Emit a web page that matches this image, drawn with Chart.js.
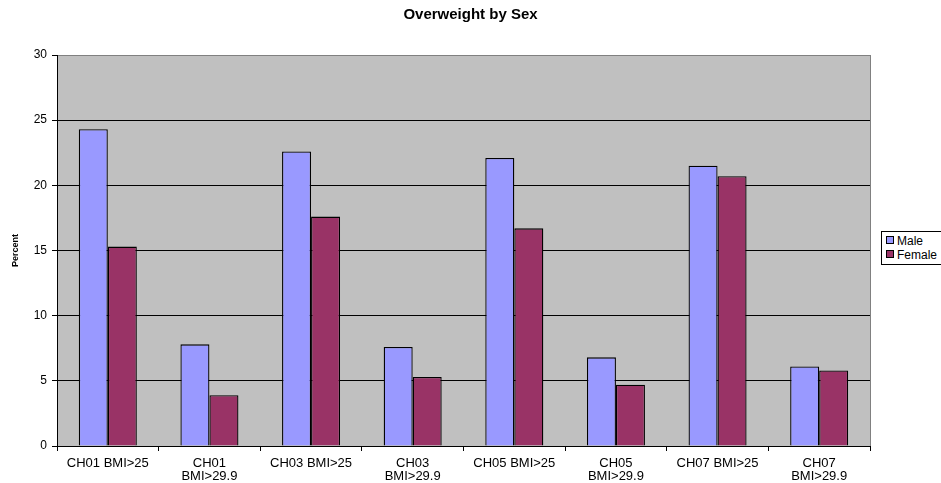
<!DOCTYPE html>
<html>
<head>
<meta charset="utf-8">
<title>Overweight by Sex</title>
<script src="https://cdn.jsdelivr.net/npm/chart.js@4/dist/chart.umd.min.js"></script>
<style>
  html, body { margin: 0; padding: 0; background: #fff; overflow: hidden; }
  #wrap { position: relative; width: 941px; height: 483px; overflow: hidden; }
  #legend {
    position: absolute; left: 881px; top: 231px; width: 80px; height: 32px;
    border: 1px solid #000; background: #fff;
    font: 12px "Liberation Sans", Arial, sans-serif; color: #000;
  }
  #legend div { position: absolute; left: 4px; height: 14px; line-height: 14px; white-space: nowrap; }
  #legend span {
    display: inline-block; width: 6px; height: 6px; border: 1px solid #000;
    margin-right: 3px; vertical-align: 1px;
  }
</style>
</head>
<body>
<div id="wrap">
  <canvas id="myChart" width="941" height="483"></canvas>
  <div id="legend"></div>
</div>
<script>
const kategori = [
  'CH01 BMI>25', ['CH01', 'BMI>29.9'],
  'CH03 BMI>25', ['CH03', 'BMI>29.9'],
  'CH05 BMI>25', ['CH05', 'BMI>29.9'],
  'CH07 BMI>25', ['CH07', 'BMI>29.9']
];
const male = [24.3, 7.8, 22.6, 7.6, 22.1, 6.8, 21.5, 6.1];
const female = [15.3, 3.9, 17.6, 5.3, 16.7, 4.7, 20.7, 5.8];
const namaSeri = ['Male', 'Female'];
const warna = ['#9999FF', '#993366'];
const yTicks = [0, 5, 10, 15, 20, 25, 30];

const font = "'Liberation Sans', Arial, sans-serif";

// grey plot background + right border
const latar = {
  id: 'latar',
  beforeDraw(chart) {
    const { ctx, chartArea: a } = chart;
    ctx.save();
    ctx.fillStyle = '#C0C0C0';
    ctx.fillRect(a.left, a.top, a.right - a.left, a.bottom - a.top);
    ctx.restore();
  },
  afterDraw(chart) {
    const { ctx, chartArea: a } = chart;
    ctx.save();
    ctx.strokeStyle = '#808080';
    ctx.lineWidth = 1;
    ctx.beginPath();
    ctx.moveTo(Math.round(a.right) + 0.5, a.top);
    ctx.lineTo(Math.round(a.right) + 0.5, a.bottom);
    ctx.stroke();
    ctx.restore();
  }
};

const data = {
  labels: kategori,
  datasets: [
    { label: namaSeri[0], data: male, backgroundColor: warna[0], borderColor: '#000', borderWidth: 1.3 },
    { label: namaSeri[1], data: female, backgroundColor: warna[1], borderColor: '#000', borderWidth: 1.3 }
  ]
};

const viewChart = {
  type: 'bar',
  data: data,
  plugins: [latar],
  options: {
    responsive: false,
    animation: false,
    layout: { padding: 0 },
    datasets: { bar: { categoryPercentage: 0.571, barPercentage: 1.0 } },
    plugins: {
      legend: { display: false },
      tooltip: { enabled: false },
      title: {
        display: true,
        text: 'Overweight by Sex',
        color: '#000',
        font: { family: font, size: 15, weight: 'bold', lineHeight: 1.2 },
        padding: { top: 6, bottom: 31 }
      }
    },
    scales: {
      x: {
        afterFit: (s) => { s.height = 37; },
        grid: { drawOnChartArea: false, drawTicks: true, tickLength: 5, color: '#000', offset: true },
        border: { color: '#000' },
        ticks: { color: '#000', font: { family: font, size: 13, lineHeight: 1.0 }, padding: 6, maxRotation: 0, autoSkip: false }
      },
      y: {
        min: 0, max: 30,
        afterFit: (s) => { s.width = 57; },
        afterBuildTicks: (s) => { s.ticks = yTicks.map(v => ({ value: v })); },
        title: {
          display: true, text: 'Percent', color: '#000',
          font: { family: font, size: 9, weight: 'bold' },
          padding: { top: 10, bottom: 0 }
        },
        grid: {
          color: (c) => c.tick && c.tick.value === 30 ? '#808080' : '#000',
          tickColor: '#000',
          tickLength: 5
        },
        border: { color: '#000' },
        ticks: { color: '#000', font: { family: font, size: 12 }, padding: 5 }
      },
      // empty strip on the right where the legend sits
      kanan: {
        type: 'linear',
        position: 'right',
        afterFit: (s) => { s.width = 71; },
        grid: { display: false },
        border: { display: false },
        ticks: { display: false }
      }
    }
  }
};

const chart = document.getElementById('myChart');
const myChart = new Chart(chart, viewChart);

// legend on the right
const legend = document.getElementById('legend');
namaSeri.forEach((n, i) => {
  const row = document.createElement('div');
  row.style.top = (2 + i * 14) + 'px';
  row.innerHTML = '<span style="background:' + warna[i] + '"></span>' + n;
  legend.appendChild(row);
});
</script>
</body>
</html>
